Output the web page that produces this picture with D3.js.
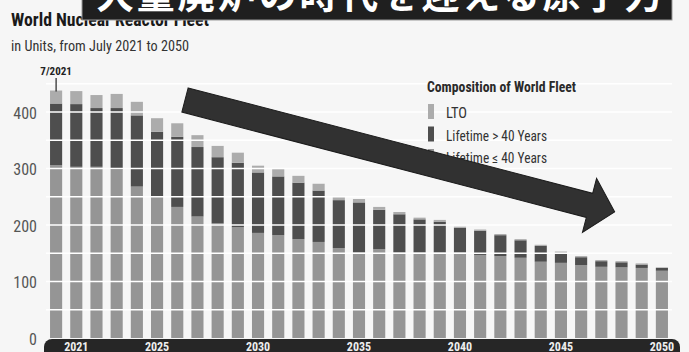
<!DOCTYPE html>
<html>
<head>
<meta charset="utf-8">
<script src="https://cdn.jsdelivr.net/npm/d3@7/dist/d3.min.js"></script>
<style>
  html, body { margin: 0; padding: 0; background: #f6f6f6; }
  svg { display: block; }
  .narrow { font-family: "Roboto Condensed", "Liberation Sans Narrow", "DejaVu Sans Condensed", Roboto, sans-serif; }
</style>
</head>
<body>
<script>
// Fleet size per year, July 2021 then year-end 2021 … 2050 (units)
const categories = ["7/2021", "2021", "2022", "2023", "2024", "2025", "2026", "2027", "2028", "2029",
  "2030", "2031", "2032", "2033", "2034", "2035", "2036", "2037", "2038", "2039",
  "2040", "2041", "2042", "2043", "2044", "2045", "2046", "2047", "2048", "2049", "2050"];
const lifetimeUpTo40 = [306, 303, 303, 298, 268, 250, 232, 215, 203, 196,
  186, 182, 175, 170, 159, 152, 157, 152, 152, 152,
  152, 147, 145, 142, 135, 133, 129, 126, 125, 124, 119];
const lifetimeOver40 = [109, 111, 104, 109, 126, 115, 124, 123, 117, 114,
  107, 104, 100, 91, 85, 88, 70, 67, 58, 54,
  43, 43, 37, 31, 28, 18, 14, 10, 9, 6, 5];
const lto = [23, 23, 23, 25, 24, 24, 24, 21, 20, 18,
  12, 13, 12, 12, 6, 6, 5, 4, 3, 3,
  2, 2, 2, 2, 2, 2, 2, 2, 2, 2, 1];
const seriesKeys = ["le40", "gt40", "lto"];
const seriesNames = ["Lifetime \u2264 40 Years", "Lifetime > 40 Years", "LTO"];
const yTicks = [0, 100, 200, 300, 400];
const xLabels = ["2021", "2025", "2030", "2035", "2040", "2045", "2050"];
const headline = "大量廃炉の時代を迎える原子力";

const W = 689, H = 352;
const svg = d3.select("body").append("svg").attr("width", W).attr("height", H);
svg.append("rect").attr("width", W).attr("height", H).attr("fill", "#f6f6f6");

const rows = categories.map((c, i) => ({ cat: c, le40: lifetimeUpTo40[i], gt40: lifetimeOver40[i], lto: lto[i] }));
const stacked = d3.stack().keys(seriesKeys)(rows);

const x = d3.scaleBand().domain(categories).range([46, 672]).paddingInner(0.4).paddingOuter(0.2);
const y = d3.scaleLinear().domain([0, 400]).range([338, 112]);
const color = d3.scaleOrdinal().domain(seriesKeys).range(["#959595", "#4e4e4e", "#acacac"]);

// stacked bars
svg.append("g").selectAll("g").data(stacked).join("g")
  .attr("fill", d => color(d.key))
  .selectAll("rect").data(d => d).join("rect")
  .attr("x", d => x(d.data.cat))
  .attr("width", x.bandwidth())
  .attr("y", d => y(d[1]))
  .attr("height", d => y(d[0]) - y(d[1]));

// white grid lines every 50 units, drawn over the bars
svg.append("g").selectAll("line").data(d3.range(50, 451, 50)).join("line")
  .attr("x1", 46).attr("x2", 672)
  .attr("y1", d => y(d)).attr("y2", d => y(d))
  .attr("stroke", "#ffffff").attr("stroke-width", 1.6);

// y axis labels
const yAxis = svg.append("g").attr("transform", "translate(37,0)")
  .call(d3.axisLeft(y).tickValues(yTicks).tickSize(0).tickPadding(0));
yAxis.select(".domain").remove();
yAxis.selectAll("text").attr("class", "narrow").attr("font-size", 16)
  .attr("fill", "#555").attr("dy", "0.4em");

// dark x-axis band with year labels
svg.append("rect").attr("x", 44).attr("y", 339).attr("width", 636).attr("height", 22)
  .attr("rx", 8).attr("fill", "#262626");
svg.append("g").selectAll("text").data(xLabels).join("text")
  .attr("class", "narrow")
  .attr("x", d => x(d) + x.bandwidth() / 2).attr("y", 350.5)
  .attr("text-anchor", "middle").attr("font-size", 12).attr("font-weight", 700)
  .attr("fill", "#eeeeee").text(d => d);

// marker for the first (mid-year) bar
const firstX = x(categories[0]) + x.bandwidth() / 2;
svg.append("line").attr("x1", firstX).attr("x2", firstX)
  .attr("y1", 78).attr("y2", y(d3.sum(seriesKeys, k => rows[0][k])) + 1)
  .attr("stroke", "#222").attr("stroke-width", 1.2);
svg.append("text").attr("class", "narrow").attr("x", firstX).attr("y", 75)
  .attr("text-anchor", "middle").attr("font-size", 11).attr("font-weight", 700)
  .attr("fill", "#222").text("7/2021");

// title block
svg.append("text").attr("class", "narrow").attr("x", 11).attr("y", 26)
  .attr("font-size", 19).attr("font-weight", 700).attr("fill", "#1a1a1a")
  .attr("textLength", 198).attr("lengthAdjust", "spacingAndGlyphs")
  .text("World Nuclear Reactor Fleet");
svg.append("text").attr("class", "narrow").attr("x", 11).attr("y", 51)
  .attr("font-size", 14).attr("fill", "#333")
  .attr("textLength", 178).attr("lengthAdjust", "spacingAndGlyphs")
  .text("in Units, from July 2021 to 2050");

// legend
const legend = svg.append("g");
legend.append("text").attr("class", "narrow").attr("x", 427).attr("y", 92)
  .attr("font-size", 14).attr("font-weight", 700).attr("fill", "#2a2a2a")
  .attr("textLength", 149).attr("lengthAdjust", "spacingAndGlyphs")
  .text("Composition of World Fleet");
const legendOrder = ["lto", "gt40", "le40"];
const legendWidths = { lto: 21, gt40: 101, le40: 101 };
legendOrder.forEach((k, i) => {
  const yy = 104 + i * 22.5;
  legend.append("rect").attr("x", 428).attr("y", yy).attr("width", 6).attr("height", 15)
    .attr("fill", color(k));
  legend.append("text").attr("class", "narrow").attr("x", 446).attr("y", yy + 14)
    .attr("font-size", 14).attr("fill", "#333")
    .attr("textLength", legendWidths[k]).attr("lengthAdjust", "spacingAndGlyphs")
    .text(seriesNames[seriesKeys.indexOf(k)]);
});

// downward trend arrow
svg.append("path")
  .attr("transform", "translate(185,100) rotate(14.6)")
  .attr("d", "M0,-12.5 L418,-12.5 L418,-28 L444,0 L418,28 L418,12.5 L0,12.5 Z")
  .attr("fill", "#313131").attr("stroke", "#1c1c1c").attr("stroke-width", 1);

// headline banner across the top
svg.append("rect").attr("x", 82).attr("y", -20).attr("width", 590).attr("height", 40)
  .attr("fill", "#1f1f1f").attr("stroke", "#9a9a9a").attr("stroke-width", 1);
svg.append("text").attr("x", 96).attr("y", 8)
  .attr("font-family", "'Noto Sans CJK JP', 'Noto Sans CJK SC', sans-serif")
  .attr("font-size", 38).attr("font-weight", 700).attr("fill", "#ffffff")
  .attr("textLength", 566).attr("lengthAdjust", "spacing")
  .text(headline);
</script>
</body>
</html>
